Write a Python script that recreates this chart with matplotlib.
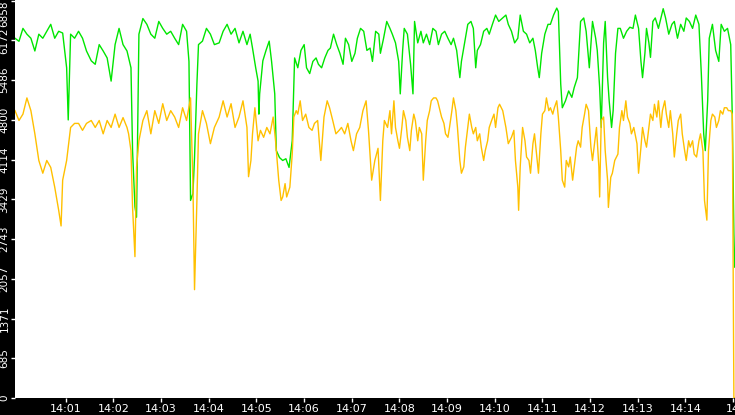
import matplotlib
matplotlib.use("Agg")
import matplotlib.pyplot as plt

# seconds after 14:00:00
green_t = [-4,1,6,11,16,21,26,31,36,41,46,51,56,61,63,66,71,76,81,86,92,97,102,107,112,117,122,127,132,137,142,144,147,149,152,157,162,167,172,177,182,187,192,197,202,207,212,215,217,220,222,225,227,232,237,242,247,253,258,263,268,273,278,283,288,292,295,299,302,303,304,308,312,316,319,323,325,329,333,337,341,345,348,352,356,360,363,367,371,375,378,382,386,390,393,397,401,405,409,412,416,420,424,427,431,435,439,443,446,450,454,456,460,464,468,471,475,479,481,484,486,490,494,497,499,503,507,510,514,518,522,526,529,533,537,541,545,548,552,556,558,562,566,570,573,576,578,582,586,590,593,597,601,605,610,614,617,621,625,629,632,636,640,644,648,651,654,656,659,663,667,670,674,678,680,683,685,689,693,697,700,704,708,712,715,719,723,727,729,732,734,737,739,742,744,747,749,752,755,758,762,766,770,774,777,781,784,786,789,791,794,796,799,802,806,810,812,815,819,823,826,830,834,838,841,845,849,853,857,860,863,865,868,870,874,878,882,885,889,893,897,899,901,902]
green_v = [6210,6157,6380,6280,6210,5990,6280,6210,6330,6450,6210,6330,6300,5700,4800,6280,6210,6330,6210,5990,5820,5760,6100,5990,5870,5470,6100,6380,6100,5990,5700,4270,3300,3120,6280,6550,6450,6280,6210,6500,6380,6280,6330,6210,6100,6450,6330,5810,3410,3530,4150,5420,6100,6160,6380,6280,6100,6130,6330,6450,6280,6380,6130,6330,6100,6280,6040,5700,5470,4900,5250,5820,6000,6160,5810,5250,4270,4150,4100,4130,3980,4440,5870,5700,6000,6100,5700,5600,5810,5870,5760,5700,5870,6000,6040,6280,6100,5950,5760,6210,6100,5810,5950,6210,6380,6330,6000,6040,5810,6330,6280,5950,6210,6500,6380,6280,6130,5810,5250,6000,6380,6280,5760,5250,6500,6130,6330,6130,6280,6100,6380,6330,6100,6280,6330,6210,6100,6210,6000,5530,5810,6130,6450,6500,6380,5700,6000,6100,6330,6380,6280,6450,6610,6500,6560,6610,6450,6330,6130,6210,6610,6330,6280,6130,6210,6000,5700,5530,5950,6280,6450,6450,6610,6730,6670,5420,5010,5130,5300,5190,5360,5530,6500,6560,6330,5700,6500,6210,6000,5360,4670,6130,6500,5530,5130,4670,4960,5950,6380,6380,6210,6330,6400,6380,6610,6380,5810,5530,5950,6380,6130,5880,6500,6560,6380,6610,6720,6560,6280,6450,6500,6210,6450,6330,6560,6500,6380,6610,6450,5600,4560,4270,5130,6210,6450,6000,5810,6450,6330,6380,6100,4850,2850,2260]

yellow_t = [-4,1,6,11,16,21,26,31,36,41,46,51,54,56,61,66,71,76,81,86,92,97,102,107,112,117,122,127,132,137,139,142,144,147,149,152,157,162,167,172,177,182,187,192,197,202,207,212,217,220,222,225,227,232,237,242,247,253,258,263,268,273,278,283,288,290,293,295,298,302,305,309,313,317,321,324,328,331,333,336,338,342,345,347,350,352,355,358,362,366,370,373,377,381,385,389,392,396,400,404,407,411,415,419,422,426,430,434,438,441,445,449,453,456,459,461,465,468,470,473,475,478,480,483,485,488,490,493,495,498,500,503,505,508,510,513,515,518,520,523,526,528,531,533,536,538,541,543,546,548,551,553,556,558,561,563,566,568,571,573,576,578,581,583,586,588,591,593,596,599,601,604,606,610,614,617,621,624,626,629,630,632,635,638,640,643,645,648,650,653,655,658,660,663,665,668,670,673,675,678,680,683,685,688,690,693,695,698,700,703,705,708,710,713,715,718,721,723,726,728,731,732,734,737,739,742,743,746,748,751,755,757,760,762,765,767,770,772,775,779,781,784,786,789,791,794,796,799,801,804,806,809,811,814,816,819,821,824,826,829,831,834,836,839,841,844,846,849,851,854,857,859,862,864,867,869,872,874,877,879,882,884,887,889,892,894,897,899,901,902]
yellow_v = [4960,4790,4900,5180,4960,4560,4100,3880,4100,3980,3640,3240,2970,3760,4100,4670,4740,4740,4620,4740,4790,4670,4790,4560,4790,4670,4900,4670,4840,4670,4560,4270,3290,2440,3980,4440,4790,4960,4560,4960,4740,5080,4790,4960,4850,4670,5010,4790,5180,3700,1870,3410,4560,4960,4740,4390,4670,4850,5130,4850,5080,4670,4850,5130,4670,3820,4100,4560,5010,4440,4620,4500,4670,4560,4850,4440,3760,3410,3470,3700,3470,3640,4210,4850,4960,4900,5130,4790,4900,4670,4620,4740,4790,4100,4850,5130,5010,4790,4560,4620,4670,4560,4740,4440,4270,4560,4670,4960,5130,4620,3760,4100,4310,3410,4440,4790,4670,4960,4560,5130,4670,4440,4310,4670,4960,4790,4500,4270,4620,4900,4790,4440,4670,4560,3760,4440,4790,4960,5130,5180,5180,5130,4960,4850,4740,4560,4500,4670,4960,5180,4960,4670,4100,3880,3990,4330,4670,4900,4670,4560,4670,4440,4560,4330,4100,4270,4440,4670,4790,4900,4670,5010,5070,4960,4670,4390,4500,4620,4100,3640,3240,3990,4670,4440,4160,4100,3880,4390,4560,4160,3880,4560,4900,4960,5180,4960,5010,4900,5010,5130,4850,4270,3760,3640,4100,3990,4160,3760,3990,4330,4440,4330,4670,4900,5070,4960,4330,4100,4440,4670,3990,3470,4790,4850,4270,3760,3290,3810,3880,4100,4210,4670,4960,4790,5130,4850,4740,4560,4670,4390,3880,4330,4670,4440,4330,4670,4900,4790,5070,4850,5130,4670,4960,5130,4900,4670,4960,4560,4160,4560,4790,4900,4560,4270,4100,4440,4330,4440,4210,4160,4440,4560,4270,3410,3070,4270,4790,4900,4850,4670,4790,4960,4900,5010,5010,4960,4960,4900,0,0]

y_ticks = [0, 685, 1371, 2057, 2743, 3429, 4114, 4800, 5486, 6172, 6858]
x_ticks = [60*i for i in range(1, 16)]
x_labels = ["14:%02d" % i for i in range(1, 15)] + ["14"]

fig = plt.figure(figsize=(7.35, 4.15), dpi=100, facecolor="black")
ax = fig.add_axes([15/735, 17/415, 720/735, 398/415])
ax.set_facecolor("white")
ax.plot(green_t, green_v, color="#00e600", lw=1)
ax.plot(yellow_t, yellow_v, color="#ffc000", lw=1)
ax.set_xlim(-4, 902.4)
ax.set_ylim(0, 6870)
for s in ax.spines.values():
    s.set_visible(False)
ax.set_yticks(y_ticks)
ax.set_yticklabels([str(v) for v in y_ticks], rotation=90, va="center", fontsize=7.5, color="white")
ax.get_yticklabels()[-1].set_va("top")
ax.set_xticks(x_ticks)
ax.set_xticklabels(x_labels, fontsize=8, color="white")
ax.tick_params(axis="both", colors="white", length=3, width=1, pad=1)
fig.savefig("out.png", dpi=100, facecolor="black")
